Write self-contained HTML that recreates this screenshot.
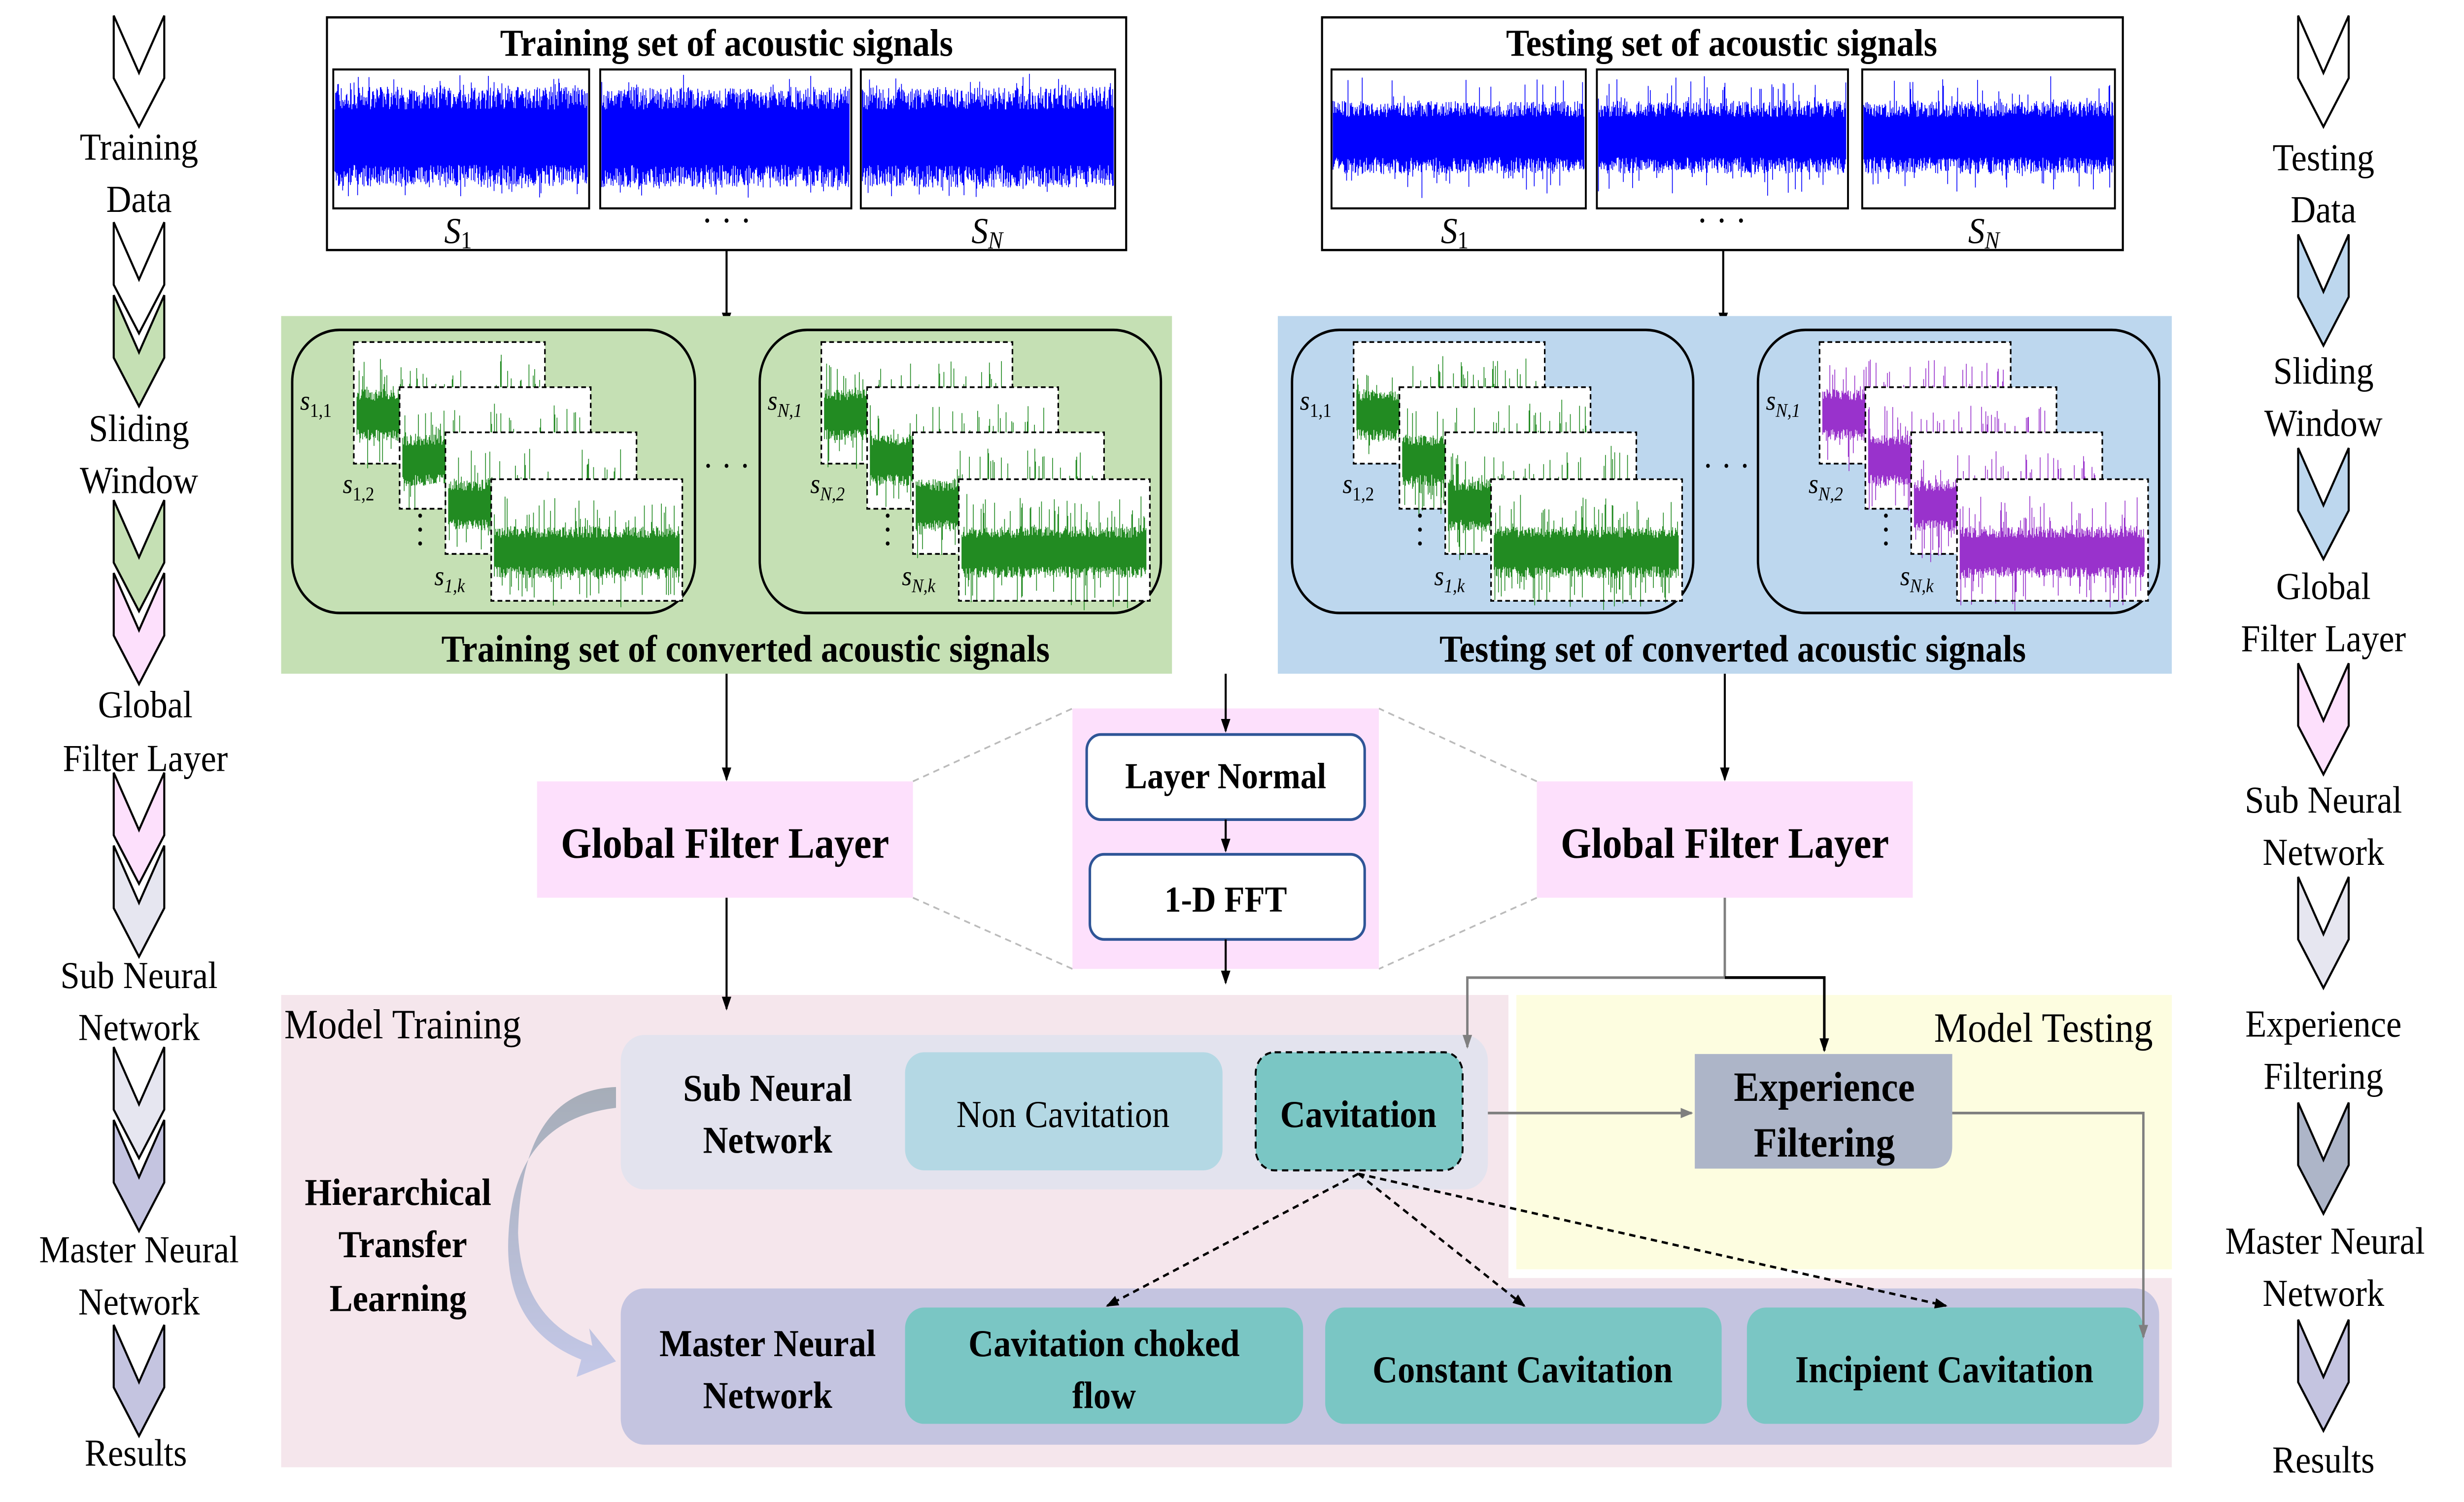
<!DOCTYPE html>
<html><head><meta charset="utf-8"><style>
html,body{margin:0;padding:0;background:#fff;overflow:hidden;width:100%;height:100%}
svg{display:block;position:absolute;left:0;top:0;width:100vw;height:100vh}
text{font-family:"Liberation Serif",serif}
.b{font-weight:bold}
</style></head><body>
<svg id="s" xmlns="http://www.w3.org/2000/svg" viewBox="0 0 1560 865" preserveAspectRatio="none">
<defs>
<marker id="ab" markerWidth="8" markerHeight="8" refX="7" refY="4" orient="auto" markerUnits="userSpaceOnUse"><path d="M0,1 L8,4 L0,7z" fill="#000"/></marker>
<marker id="ag" markerWidth="8" markerHeight="8" refX="7" refY="4" orient="auto" markerUnits="userSpaceOnUse"><path d="M0,1 L8,4 L0,7z" fill="#7f7f7f"/></marker>
<linearGradient id="cg" x1="0" y1="0" x2="0" y2="1"><stop offset="0" stop-color="#a6adb8"/><stop offset="1" stop-color="#c4c8e8"/></linearGradient>
</defs>
<rect width="1560" height="865" fill="#fff"/>

<rect x="207" y="10" width="506" height="134" fill="#fff" stroke="#000" stroke-width="1.3"/>
<text x="460" y="32" font-size="22" class="b" text-anchor="middle">Training set of acoustic signals</text>
<rect x="837" y="10" width="507" height="134" fill="#fff" stroke="#000" stroke-width="1.3"/>
<text x="1090" y="32" font-size="22" class="b" text-anchor="middle">Testing set of acoustic signals</text>
<g id="topsig"></g>
<g font-size="21" font-style="italic" text-anchor="middle">
<text x="290" y="140">S<tspan font-size="14" font-style="normal" dy="3">1</tspan></text>
<text x="460" y="134" font-style="normal">· · ·</text>
<text x="625" y="140">S<tspan font-size="14" dy="3">N</tspan></text>
<text x="921" y="140">S<tspan font-size="14" font-style="normal" dy="3">1</tspan></text>
<text x="1090" y="134" font-style="normal">· · ·</text>
<text x="1256" y="140">S<tspan font-size="14" dy="3">N</tspan></text>
</g>
<line x1="460" y1="144" x2="460" y2="187" stroke="#000" stroke-width="1.3" marker-end="url(#ab)"/>
<line x1="1091" y1="144" x2="1091" y2="187" stroke="#000" stroke-width="1.3" marker-end="url(#ab)"/>

<rect x="178" y="182" width="564" height="206" fill="#c5e0b4"/>
<rect x="809" y="182" width="566" height="206" fill="#bdd7ee"/>
<rect x="185" y="190" width="255" height="163" rx="30" fill="none" stroke="#000" stroke-width="1.5"/>
<rect x="481" y="190" width="254" height="163" rx="30" fill="none" stroke="#000" stroke-width="1.5"/>
<rect x="818" y="190" width="254" height="163" rx="30" fill="none" stroke="#000" stroke-width="1.5"/>
<rect x="1113" y="190" width="254" height="163" rx="30" fill="none" stroke="#000" stroke-width="1.5"/>
<g id="frames"></g>
<text x="460" y="275" font-size="20" text-anchor="middle">· · ·</text>
<text x="1093" y="275" font-size="20" text-anchor="middle">· · ·</text>
<text x="472" y="381" font-size="22" class="b" text-anchor="middle">Training set of converted acoustic signals</text>
<text x="1097" y="381" font-size="22" class="b" text-anchor="middle">Testing set of converted acoustic signals</text>

<line x1="460" y1="388" x2="460" y2="449" stroke="#000" stroke-width="1.3" marker-end="url(#ab)"/>
<line x1="1092" y1="388" x2="1092" y2="449" stroke="#000" stroke-width="1.3" marker-end="url(#ab)"/>
<g stroke="#bbb" stroke-width="1" stroke-dasharray="4,3">
<line x1="578" y1="450" x2="679" y2="408"/><line x1="578" y1="517" x2="679" y2="558"/>
<line x1="973" y1="450" x2="873" y2="408"/><line x1="973" y1="517" x2="873" y2="558"/>
</g>
<rect x="340" y="450" width="238" height="67" fill="#fde0fc"/>
<text x="459" y="494" font-size="25" class="b" text-anchor="middle">Global Filter Layer</text>
<rect x="973" y="450" width="238" height="67" fill="#fde0fc"/>
<text x="1092" y="494" font-size="25" class="b" text-anchor="middle">Global Filter Layer</text>
<rect x="679" y="408" width="194" height="150" fill="#fde0fc"/>
<rect x="688" y="423" width="176" height="49" rx="9" fill="#fff" stroke="#2f5597" stroke-width="1.6"/>
<text x="776" y="454" font-size="21" class="b" text-anchor="middle">Layer Normal</text>
<rect x="690" y="492" width="174" height="49" rx="9" fill="#fff" stroke="#2f5597" stroke-width="1.6"/>
<text x="776" y="525" font-size="21" class="b" text-anchor="middle">1-D FFT</text>
<line x1="776" y1="388" x2="776" y2="421" stroke="#000" stroke-width="1.3" marker-end="url(#ab)"/>
<line x1="776" y1="472" x2="776" y2="490" stroke="#000" stroke-width="1.3" marker-end="url(#ab)"/>
<line x1="776" y1="541" x2="776" y2="566" stroke="#000" stroke-width="1.3" marker-end="url(#ab)"/>

<rect x="178" y="573" width="1197" height="272" fill="#f5e6ec"/>
<rect x="955" y="573" width="420" height="163" fill="#fff"/>
<rect x="960" y="573" width="415" height="158" fill="#fdfde0"/>
<text x="180" y="598" font-size="24">Model Training</text>
<text x="1363" y="600" font-size="24" text-anchor="end">Model Testing</text>
<line x1="460" y1="517" x2="460" y2="581" stroke="#000" stroke-width="1.3" marker-end="url(#ab)"/>

<rect x="393" y="596" width="549" height="89" rx="15" fill="#e3e3ee"/>
<text x="486" y="634" font-size="22" class="b" text-anchor="middle">Sub Neural</text>
<text x="486" y="664" font-size="22" class="b" text-anchor="middle">Network</text>
<rect x="573" y="606" width="201" height="68" rx="12" fill="#b4d8e4"/>
<text x="673" y="649" font-size="22" text-anchor="middle">Non Cavitation</text>
<rect x="795" y="606" width="131" height="68" rx="12" fill="#7ac6c4" stroke="#000" stroke-width="1.2" stroke-dasharray="4,3"/>
<text x="860" y="649" font-size="22" class="b" text-anchor="middle">Cavitation</text>

<path d="M1073,607 H1236 V660 Q1236,673 1223,673 H1073 Z" fill="#adb5c8"/>
<text x="1155" y="634" font-size="24" class="b" text-anchor="middle">Experience</text>
<text x="1155" y="666" font-size="24" class="b" text-anchor="middle">Filtering</text>

<rect x="393" y="742" width="974" height="90" rx="15" fill="#c4c4e0"/>
<text x="486" y="781" font-size="22" class="b" text-anchor="middle">Master Neural</text>
<text x="486" y="811" font-size="22" class="b" text-anchor="middle">Network</text>
<rect x="573" y="753" width="252" height="67" rx="12" fill="#7ac6c4"/>
<text x="699" y="781" font-size="22" class="b" text-anchor="middle">Cavitation choked</text>
<text x="699" y="811" font-size="22" class="b" text-anchor="middle">flow</text>
<rect x="839" y="753" width="251" height="67" rx="12" fill="#7ac6c4"/>
<text x="964" y="796" font-size="22" class="b" text-anchor="middle">Constant Cavitation</text>
<rect x="1106" y="753" width="251" height="67" rx="12" fill="#7ac6c4"/>
<text x="1231" y="796" font-size="22" class="b" text-anchor="middle">Incipient Cavitation</text>

<g stroke="#000" stroke-width="1.4" stroke-dasharray="4,3" fill="none">
<line x1="860" y1="676" x2="701" y2="752" marker-end="url(#ab)"/>
<line x1="860" y1="676" x2="965" y2="752" marker-end="url(#ab)"/>
<line x1="860" y1="676" x2="1232" y2="752" marker-end="url(#ab)"/>
</g>
<polyline points="1092,517 1092,563 929,563 929,603" fill="none" stroke="#7f7f7f" stroke-width="1.5" marker-end="url(#ag)"/>
<polyline points="1092,563 1155,563 1155,605" fill="none" stroke="#000" stroke-width="1.6" marker-end="url(#ab)"/>
<line x1="942" y1="641" x2="1071" y2="641" stroke="#7f7f7f" stroke-width="1.5" marker-end="url(#ag)"/>
<polyline points="1236,641 1357,641 1357,770" fill="none" stroke="#7f7f7f" stroke-width="1.5" marker-end="url(#ag)"/>

<text x="252" y="694" font-size="22" class="b" text-anchor="middle">Hierarchical</text>
<text x="255" y="724" font-size="22" class="b" text-anchor="middle">Transfer</text>
<text x="252" y="755" font-size="22" class="b" text-anchor="middle">Learning</text>
<path d="M390,626 Q330,628 328,710 Q330,760 375,775 L373,765 L390,784 L365,793 L368,783 Q318,765 322,710 Q326,645 390,638 Z" fill="url(#cg)"/>

<g id="chev" stroke="#000" stroke-width="1.3"></g>
<g font-size="22" text-anchor="middle">
<text x="88" y="92">Training</text><text x="88" y="122">Data</text>
<text x="88" y="254">Sliding</text><text x="88" y="284">Window</text>
<text x="92" y="413">Global</text><text x="92" y="444">Filter Layer</text>
<text x="88" y="569">Sub Neural</text><text x="88" y="599">Network</text>
<text x="88" y="727">Master Neural</text><text x="88" y="757">Network</text>
<text x="86" y="844">Results</text>
<text x="1471" y="98">Testing</text><text x="1471" y="128">Data</text>
<text x="1471" y="221">Sliding</text><text x="1471" y="251">Window</text>
<text x="1471" y="345">Global</text><text x="1471" y="375">Filter Layer</text>
<text x="1471" y="468">Sub Neural</text><text x="1471" y="498">Network</text>
<text x="1471" y="597">Experience</text><text x="1471" y="627">Filtering</text>
<text x="1472" y="722">Master Neural</text><text x="1471" y="752">Network</text>
<text x="1471" y="848">Results</text>
</g>
</svg>
<script>
(function(){
var NS="http://www.w3.org/2000/svg";
var seed=7;function r(){seed=(seed*16807)%2147483647;return seed/2147483647;}
function el(t,a,p){var e=document.createElementNS(NS,t);for(var k in a)e.setAttribute(k,a[k]);p.appendChild(e);return e;}
function noise(p,x0,x1,cy,base,spike,col,prob,lim){
 var d="";for(var x=x0;x<x1;x+=0.45){var a=base*(0.55+0.45*r());if(r()<prob)a+=spike*r();var b=base*(0.55+0.45*r());if(r()<prob)b+=spike*r();
 a=Math.min(a,lim);b=Math.min(b,lim);
 d+="M"+x.toFixed(2)+" "+(cy-a).toFixed(1)+"V"+(cy+b).toFixed(1);}
 el("path",{d:d,stroke:col,"stroke-width":"0.5",fill:"none"},p);}
var top=document.getElementById("topsig");
[[211,373],[380,539],[545,706]].forEach(function(b){el("rect",{x:b[0],y:40,width:b[1]-b[0],height:80,fill:"#fff",stroke:"#000","stroke-width":1.2},top);noise(top,b[0]+1,b[1]-1,79,29,8,"#0000ff",0.15,38);});
[[843,1004],[1011,1170],[1179,1339]].forEach(function(b){el("rect",{x:b[0],y:40,width:b[1]-b[0],height:80,fill:"#fff",stroke:"#000","stroke-width":1.2},top);noise(top,b[0]+1,b[1]-1,79,21,16,"#0000ff",0.1,38);});
var fr=document.getElementById("frames");
function stack(x0,col,lab){
 var offs=[[39,197],[68,223],[97,249],[126,276]];
 offs.forEach(function(o){var x=x0+o[0],y=o[1];el("rect",{x:x,y:y,width:121,height:70,fill:"#fff"},fr);
 noise(fr,x+2,x+119,y+42,15,20,col,0.16,36);
 el("rect",{x:x,y:y,width:121,height:70,fill:"none",stroke:"#000","stroke-width":1,"stroke-dasharray":"3,2"},fr);});
 function lbl(x,y,sub){var t=el("text",{x:x,y:y,"font-size":"16","font-style":"italic"},fr);t.textContent="s";var s=el("tspan",{"font-size":"11",dy:"4","font-style":sub[1]},t);s.textContent=sub[0];}
 lbl(x0+5,236,[lab+",1",lab=="1"?"normal":"italic"]);
 lbl(x0+32,284,[lab+",2",lab=="1"?"normal":"italic"]);
 lbl(x0+90,337,[lab+",k","italic"]);
 [297,305,313].forEach(function(y){el("circle",{cx:x0+81,cy:y,r:1.2,fill:"#000"},fr);});
}
stack(185,"#228b22","1");stack(481,"#228b22","N");stack(818,"#228b22","1");stack(1113,"#9932cc","N");
var ch=document.getElementById("chev");
function cv(cx,t,f){var w=16;el("polygon",{points:[cx-w,t,cx,t+33,cx+w,t,cx+w,t+36,cx,t+64,cx-w,t+36].join(" "),fill:f},ch);}
var L=[[9,"#fff"],[128,"#fff"],[170,"#c5e0b4"],[288,"#c5e0b4"],[330,"#fde0fc"],[445,"#fde0fc"],[487,"#e6e6f0"],[603,"#e6e6f0"],[645,"#c4c4e0"],[763,"#c4c4e0"]];
L.forEach(function(a){cv(88,a[0],a[1]);});
var R=[[9,"#fff"],[135,"#bdd7ee"],[258,"#bdd7ee"],[382,"#fde0fc"],[505,"#e6e6f0"],[635,"#adb5c8"],[760,"#c4c4e0"]];
R.forEach(function(a){cv(1471,a[0],a[1]);});
})();
</script>
</body></html>
